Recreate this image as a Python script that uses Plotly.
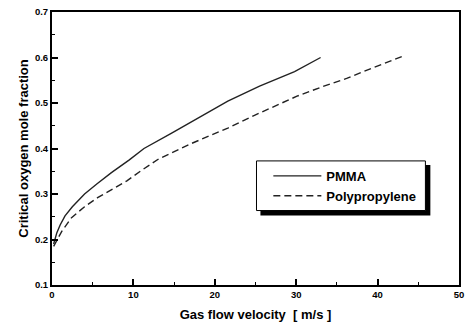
import plotly.graph_objects as go

pmma_x = [0.2, 0.6, 1.0, 1.6, 2.5, 4.0, 5.5, 7.3, 9.5, 11.3, 14.7, 18.0, 21.6, 25.5, 29.8, 33.0]
pmma_y = [0.19, 0.215, 0.232, 0.252, 0.272, 0.30, 0.322, 0.347, 0.375, 0.40, 0.434, 0.467, 0.504, 0.537, 0.569, 0.60]

pp_x = [0.2, 0.6, 1.2, 2.4, 4.0, 5.6, 7.3, 9.2, 11.0, 13.1, 17.0, 21.6, 25.0, 28.1, 30.1, 33.4, 36.2, 39.5, 43.0]
pp_y = [0.185, 0.198, 0.218, 0.248, 0.272, 0.292, 0.31, 0.329, 0.352, 0.377, 0.41, 0.445, 0.474, 0.50, 0.515, 0.537, 0.554, 0.578, 0.602]

x_ticks = [0, 10, 20, 30, 40, 50]
y_ticks = [0.1, 0.2, 0.3, 0.4, 0.5, 0.6, 0.7]

FONT = "Arial"

# plot area in pixels (for paper-coordinate conversion of legend box)
L, R, T, B = 52, 464, 10, 285
def px(xp):
    return (xp - L) / (R - L)
def py(yp):
    return (B - yp) / (B - T)

fig = go.Figure()
fig.add_trace(go.Scatter(x=pmma_x, y=pmma_y, mode="lines", name="PMMA",
                         line=dict(color="#222222", width=1.4)))
fig.add_trace(go.Scatter(x=pp_x, y=pp_y, mode="lines", name="Polypropylene",
                         line=dict(color="#222222", width=1.4, dash="7px,4px")))

axis_common = dict(showgrid=False, zeroline=False, showline=True, linecolor="black",
                   linewidth=2, mirror=True, ticks="inside", ticklen=6, tickwidth=1.5,
                   tickcolor="black",
                   tickfont=dict(family=FONT, size=9.5, color="black", weight="bold"))

fig.update_xaxes(range=[0, 50], tickvals=x_ticks, ticktext=[str(v) for v in x_ticks],
                 minor=dict(dtick=5, tick0=0, ticks="inside", ticklen=3, tickcolor="black", tickwidth=1.2),
                 title=dict(text="Gas flow velocity  [ m/s ]", standoff=10,
                            font=dict(family=FONT, size=13, color="black", weight="bold")),
                 **axis_common)
fig.update_yaxes(range=[0.1, 0.7], tickvals=y_ticks, ticktext=[f"{v:.1f}" for v in y_ticks],
                 minor=dict(dtick=0.05, tick0=0.1, ticks="inside", ticklen=3, tickcolor="black", tickwidth=1.2),
                 title=dict(text="Critical oxygen mole fraction", standoff=3,
                            font=dict(family=FONT, size=13, color="black", weight="bold")),
                 **axis_common)

# legend shadow and box
fig.add_shape(type="rect", xref="paper", yref="paper",
              x0=px(263), x1=px(435), y0=py(215), y1=py(164),
              fillcolor="black", line=dict(width=0), layer="above")
fig.add_shape(type="rect", xref="paper", yref="paper",
              x0=px(259), x1=px(430), y0=py(210), y1=py(160),
              fillcolor="white", line=dict(color="black", width=1), layer="above")

fig.update_layout(
    width=470, height=327,
    margin=dict(l=L, r=470 - R, t=T, b=327 - B),
    paper_bgcolor="white", plot_bgcolor="white",
    showlegend=True,
    legend=dict(x=px(271), y=py(160), xanchor="left", yanchor="top",
                bgcolor="rgba(0,0,0,0)", borderwidth=0,
                itemwidth=48, tracegroupgap=0,
                font=dict(family=FONT, size=13, color="black", weight="bold")),
)

fig.write_html("out.html")
